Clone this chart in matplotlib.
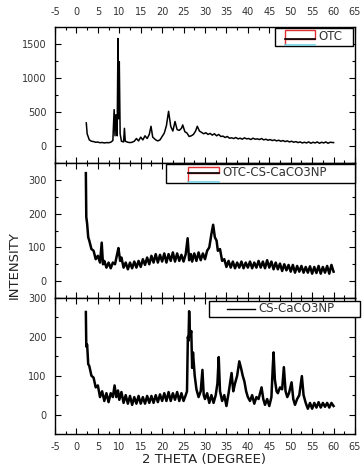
import matplotlib
matplotlib.use("Agg")
import matplotlib.pyplot as plt
from matplotlib.patches import Rectangle
from matplotlib.lines import Line2D
from matplotlib.ticker import MultipleLocator

# ---------------- data ----------------
theta_otc = [2.3, 2.5, 3.0, 3.5, 4.0, 4.5, 5.0, 5.5, 6.0, 6.5, 7.0, 7.5, 8.0, 8.5, 8.8,
             9.0, 9.2, 9.5, 9.7, 9.85, 10.0, 10.2, 10.5, 11.0, 11.2, 11.4, 12.0, 12.5,
             13.0, 13.5, 14.0, 14.5, 15.0, 15.5, 16.0, 16.5, 17.0, 17.4, 17.8, 18.5,
             19.0, 19.5, 20.0, 20.5, 21.0, 21.5, 22.0, 22.5, 23.0, 23.5, 24.0, 24.5,
             24.8, 25.3, 25.8, 26.3, 26.8, 27.3, 27.8, 28.2, 28.7, 29.2, 29.7, 30.2,
             30.7, 31.2, 31.7, 32.2, 32.7, 33.2, 33.7, 34.2, 34.7, 35.2, 35.7, 36.2,
             36.7, 37.2, 37.7, 38.2, 38.7, 39.2, 39.7, 40.2, 40.7, 41.2, 41.7, 42.2,
             42.7, 43.2, 43.7, 44.2, 44.7, 45.2, 45.7, 46.2, 46.7, 47.2, 47.7, 48.2,
             48.7, 49.2, 49.7, 50.2, 50.7, 51.2, 51.7, 52.2, 52.7, 53.2, 53.7, 54.2,
             54.7, 55.2, 55.7, 56.2, 56.7, 57.2, 57.7, 58.2, 58.7, 59.2, 60.0]
int_otc = [340, 180, 90, 70, 65, 55, 58, 48, 52, 45, 50, 48, 55, 80, 535,
           150, 460, 150, 1580, 400, 1240, 180, 70, 60, 260, 70, 55, 50,
           55, 70, 110, 75, 130, 90, 150, 110, 170, 290, 130, 90,
           75, 90, 140, 190, 300, 510, 290, 220, 360, 240, 230, 260,
           310, 210, 190, 140, 150, 170, 220, 290, 220, 200, 180, 195,
           170, 185, 160, 180, 150, 170, 140, 145, 125, 140, 115, 120,
           110, 125, 105, 115, 100, 120, 105, 110, 95, 115, 100, 105,
           95, 110, 90, 100, 85, 95, 80, 90, 75, 85, 70, 80,
           65, 75, 60, 70, 55, 65, 50, 60, 45, 55, 45, 60,
           40, 55, 45, 60, 40, 55, 45, 60, 40, 55, 50]

theta_mix = [2.2, 2.3, 2.5, 2.75, 3.0, 3.5, 4.0, 4.5, 5.0, 5.5, 5.9, 6.2, 6.5, 7.0,
             7.5, 8.0, 8.5, 9.0, 9.5, 9.8, 10.2, 10.5, 11.0, 11.5, 12.0, 12.5, 13.0,
             13.5, 14.0, 14.5, 15.0, 15.5, 16.0, 16.5, 17.0, 17.5, 18.0, 18.5, 19.0,
             19.5, 20.0, 20.5, 21.0, 21.5, 22.0, 22.5, 23.0, 23.5, 24.0, 24.5, 25.0,
             25.5, 25.95, 26.3, 26.7, 27.0, 27.5, 28.0, 28.5, 29.0, 29.5, 30.0, 30.5,
             31.0, 31.5, 31.9, 32.3, 32.7, 33.0, 33.5, 34.0, 34.5, 35.0, 35.5, 36.0,
             36.5, 37.0, 37.5, 38.0, 38.5, 39.0, 39.5, 40.0, 40.5, 41.0, 41.5, 42.0,
             42.5, 43.0, 43.5, 44.0, 44.5, 45.0, 45.5, 46.0, 46.5, 47.0, 47.5, 48.0,
             48.5, 49.0, 49.5, 50.0, 50.5, 51.0, 51.5, 52.0, 52.5, 53.0, 53.5, 54.0,
             54.5, 55.0, 55.5, 56.0, 56.5, 57.0, 57.5, 58.0, 58.5, 59.0, 59.5, 60.0]
int_mix = [320, 190, 170, 130, 120, 95, 90, 65, 75, 55, 114, 50, 60, 40,
           55, 38, 55, 50, 80, 98, 60, 70, 40, 55, 35, 55, 38,
           58, 40, 60, 42, 65, 48, 70, 50, 75, 55, 80, 55,
           78, 58, 82, 55, 80, 60, 85, 58, 82, 60, 78, 58,
           80, 127, 62, 80, 58, 82, 60, 85, 62, 82, 65, 90,
           100, 140, 167, 130, 120, 90, 95, 60, 65, 42, 60, 40,
           58, 38, 55, 40, 58, 38, 55, 40, 58, 38, 55, 40,
           60, 40, 58, 38, 62, 40, 58, 35, 55, 35, 52, 30,
           50, 32, 48, 28, 48, 25, 45, 28, 45, 25, 42, 25,
           44, 22, 42, 24, 45, 22, 42, 25, 45, 22, 48, 28]

theta_cs = [2.2, 2.3, 2.5, 2.75, 3.0, 3.5, 4.0, 4.5, 5.0, 5.5, 6.0, 6.5, 7.0, 7.5,
            8.0, 8.5, 8.9, 9.3, 9.7, 10.0, 10.5, 11.0, 11.5, 12.0, 12.5, 13.0, 13.5,
            14.0, 14.5, 15.0, 15.5, 16.0, 16.5, 17.0, 17.5, 18.0, 18.5, 19.0, 19.5,
            20.0, 20.5, 21.0, 21.5, 22.0, 22.5, 23.0, 23.5, 24.0, 24.5, 25.0, 25.5,
            25.8, 26.0, 26.15, 26.3, 26.5, 26.8, 27.0, 27.2, 27.6, 28.0, 28.5, 29.0,
            29.4, 29.7, 30.0, 30.5, 31.0, 31.5, 32.0, 32.5, 32.9, 33.2, 33.5, 34.0,
            34.5, 35.0, 35.5, 36.2, 36.6, 37.0, 37.5, 38.0, 38.4, 38.8, 39.2, 39.6,
            40.0, 40.5, 41.0, 41.5, 42.0, 42.5, 43.2, 43.6, 44.0, 44.5, 45.0, 45.5,
            45.8, 46.0, 46.3, 46.7, 47.0, 47.5, 48.0, 48.4, 48.8, 49.2, 49.6, 50.2,
            50.6, 51.0, 51.5, 52.0, 52.6, 53.0, 53.5, 54.0, 54.5, 55.0, 55.5, 56.0,
            56.5, 57.0, 57.5, 58.0, 58.5, 59.0, 59.5, 60.0]
int_cs = [264, 175, 180, 130, 125, 100, 95, 70, 75, 45, 60, 35, 55, 32,
          55, 45, 75, 45, 62, 38, 58, 30, 50, 28, 48, 25, 45,
          28, 48, 28, 45, 28, 48, 30, 48, 30, 50, 32, 52,
          35, 55, 35, 58, 35, 55, 38, 58, 35, 55, 35, 50,
          60, 200, 190, 266, 200, 215, 120, 160, 100, 65, 45, 60,
          115, 50, 40, 55, 30, 50, 30, 50, 80, 148, 60, 35,
          50, 22, 55, 107, 60, 80, 100, 137, 120, 100, 85, 60,
          45, 35, 50, 28, 45, 40, 70, 40, 25, 40, 22, 45,
          120, 160, 90, 60, 55, 70, 65, 122, 60, 45, 55, 83,
          40, 25, 40, 50, 99, 50, 30, 15, 30, 15, 30, 18,
          32, 18, 30, 20, 30, 18, 30, 22]

labels = ["OTC", "OTC-CS-CaCO3NP", "CS-CaCO3NP"]
x_ticks = [-5, 0, 5, 10, 15, 20, 25, 30, 35, 40, 45, 50, 55, 60, 65]

# ---------------- figure ----------------
W, H = 363, 470
plt.rcParams['font.family'] = ['DejaVu Sans']
plt.rcParams['axes.unicode_minus'] = False
fig = plt.figure(figsize=(W / 100, H / 100), dpi=100)

def px_axes(top, bottom, left=55, right=355):
    return [left / W, 1 - bottom / H, (right - left) / W, (bottom - top) / H]

ax1 = fig.add_axes(px_axes(27, 163))
ax2 = fig.add_axes(px_axes(163, 298))
ax3 = fig.add_axes(px_axes(298, 434))

series = [(ax1, theta_otc, int_otc, (-250, 1750), 500, 250, 1.1),
          (ax2, theta_mix, int_mix, (-50, 350), 100, 50, 1.8),
          (ax3, theta_cs, int_cs, (-50, 300), 100, 50, 1.8)]

for ax, x, y, yl, ymaj, ymin, lw in series:
    ax.plot(x, y, color='black', lw=lw)
    ax.set_xlim(-5, 65)
    ax.set_ylim(*yl)
    ax.xaxis.set_major_locator(MultipleLocator(5))
    ax.xaxis.set_minor_locator(MultipleLocator(2.5))
    ax.yaxis.set_major_locator(MultipleLocator(ymaj))
    ax.yaxis.set_minor_locator(MultipleLocator(ymin))
    ax.tick_params(which='both', direction='in', top=True, right=True,
                   labelsize=7, colors='black', labelcolor='#333333')
    ax.tick_params(which='major', length=4, width=0.8)
    ax.tick_params(which='minor', length=2.5, width=0.8)
    ax.tick_params(axis='y', pad=6)
    ax.tick_params(axis='x', labelbottom=False, labeltop=False, pad=7)
    for s in ax.spines.values():
        s.set_linewidth(1.0)

ax1.set_yticks([0, 500, 1000, 1500])
ax2.set_yticks([0, 100, 200, 300])
ax3.set_yticks([0, 100, 200, 300])
ax1.set_xticks(x_ticks)
ax1.tick_params(axis='x', labeltop=True)
ax3.set_xticks(x_ticks)
ax3.tick_params(axis='x', labelbottom=True, pad=6)

fig.text(204 / W, 1 - 459 / H, "2 THETA (DEGREE)", ha='center', va='center',
         fontsize=9.5, color='#222222')
fig.text(14 / W, 1 - 265 / H, "INTENSITY", ha='center', va='center',
         rotation=90, fontsize=9.5, color='#222222')

# ---------------- legends (drawn as in the original) ----------------
def fancy_legend(ax, box, sample, text, fs):
    bx0, by0, bx1, by1 = box
    ax.add_patch(Rectangle((bx0, by0), bx1 - bx0, by1 - by0, transform=ax.transAxes,
                           fill=True, facecolor='white', edgecolor='black', lw=1.0,
                           clip_on=False, zorder=5))
    sx0, sx1, sy_top, sy_mid, sy_bot = sample
    ax.add_patch(Rectangle((sx0, sy_mid), sx1 - sx0, sy_top - sy_mid,
                           transform=ax.transAxes, fill=False, edgecolor='#e03030',
                           lw=1.0, clip_on=False, zorder=6))
    ax.add_line(Line2D([sx0, sx0], [sy_bot, sy_mid], transform=ax.transAxes,
                       color='#e03030', lw=1.0, clip_on=False, zorder=6))
    ax.add_line(Line2D([sx0, sx1], [sy_mid, sy_mid], transform=ax.transAxes,
                       color='black', lw=1.2, clip_on=False, zorder=7))
    ax.add_line(Line2D([sx0, sx1], [sy_bot, sy_bot], transform=ax.transAxes,
                       color='#70d0e0', lw=1.2, clip_on=False, zorder=7))
    ax.text(sx1 + 0.01, (by0 + by1) / 2 + 0.005, text, transform=ax.transAxes,
            ha='left', va='center', fontsize=fs, color='#333333', zorder=8,
            clip_on=False)

fancy_legend(ax1, (0.733, 0.86, 0.993, 0.993),
             (0.767, 0.867, 0.975, 0.915, 0.87), labels[0], 8.5)
fancy_legend(ax2, (0.37, 0.852, 1.0, 0.993),
             (0.443, 0.547, 0.97, 0.925, 0.862), labels[1], 8.5)

# third legend: plain line sample
bx0, by0, bx1, by1 = 0.513, 0.86, 1.017, 0.978
ax3.add_patch(Rectangle((bx0, by0), bx1 - bx0, by1 - by0, transform=ax3.transAxes,
                        facecolor='white', edgecolor='black', lw=1.0,
                        clip_on=False, zorder=5))
ax3.add_line(Line2D([0.573, 0.667], [0.919, 0.919], transform=ax3.transAxes,
                    color='black', lw=1.0, clip_on=False, zorder=6))
ax3.text(0.677, 0.922, labels[2], transform=ax3.transAxes, ha='left', va='center',
         fontsize=8.5, color='#333333', zorder=7, clip_on=False)

fig.savefig("out.png", dpi=100)
